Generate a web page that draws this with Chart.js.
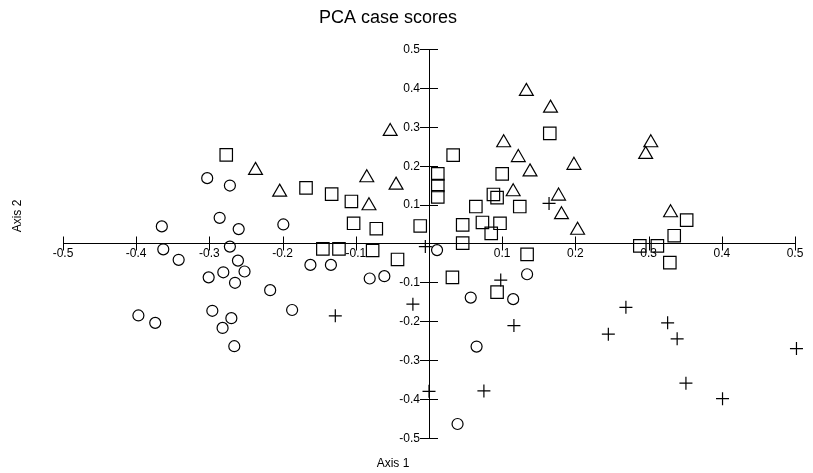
<!DOCTYPE html>
<html>
<head>
<meta charset="utf-8">
<script src="https://cdn.jsdelivr.net/npm/chart.js@4/dist/chart.umd.min.js"></script>
<style>
  html, body { margin: 0; padding: 0; background: #ffffff; }
  #wrap { width: 813px; height: 473px; }
</style>
</head>
<body>
<div id="wrap"><canvas id="c" width="813" height="473"></canvas></div>
<script>
// ---- data ----
const titleText = 'PCA case scores';
const xAxisTitle = 'Axis 1';
const yAxisTitle = 'Axis 2';
const tickValues = [-0.5, -0.4, -0.3, -0.2, -0.1, 0, 0.1, 0.2, 0.3, 0.4, 0.5];

const circleX = [-0.365, -0.303, -0.272, -0.286, -0.260, -0.199, -0.363, -0.272, -0.342, -0.261, -0.281, -0.252, -0.301, -0.265, -0.217, -0.187, -0.296, -0.397, -0.374, -0.270, -0.282, -0.266, -0.162, -0.134, -0.081, -0.061, 0.011, 0.134, 0.057, 0.115, 0.065, 0.039];
const circleY = [0.044, 0.168, 0.149, 0.066, 0.037, 0.049, -0.015, -0.008, -0.042, -0.044, -0.074, -0.072, -0.087, -0.101, -0.120, -0.171, -0.173, -0.185, -0.204, -0.192, -0.217, -0.264, -0.055, -0.055, -0.090, -0.084, -0.017, -0.079, -0.139, -0.143, -0.265, -0.464];

const squareX = [-0.277, -0.168, -0.133, -0.106, -0.103, -0.072, -0.012, -0.145, -0.123, -0.077, -0.043, 0.012, 0.012, 0.012, 0.165, 0.033, 0.100, 0.088, 0.093, 0.064, 0.124, 0.046, 0.073, 0.097, 0.085, 0.046, 0.134, 0.032, 0.093, 0.352, 0.335, 0.288, 0.312, 0.329];
const squareY = [0.228, 0.143, 0.127, 0.108, 0.052, 0.038, 0.045, -0.014, -0.014, -0.018, -0.041, 0.179, 0.149, 0.120, 0.283, 0.227, 0.179, 0.126, 0.118, 0.095, 0.095, 0.048, 0.054, 0.052, 0.026, 0.001, -0.028, -0.087, -0.125, 0.060, 0.020, -0.006, -0.006, -0.049];

const triangleX = [-0.237, -0.204, -0.053, -0.085, -0.045, -0.082, 0.133, 0.166, 0.102, 0.122, 0.138, 0.198, 0.115, 0.177, 0.181, 0.203, 0.303, 0.296, 0.330];
const triangleY = [0.188, 0.132, 0.288, 0.169, 0.150, 0.097, 0.391, 0.348, 0.259, 0.221, 0.184, 0.201, 0.133, 0.122, 0.074, 0.034, 0.259, 0.229, 0.079];

const crossX = [-0.005, -0.128, -0.022, 0.000, 0.164, 0.098, 0.116, 0.075, 0.269, 0.245, 0.326, 0.339, 0.351, 0.401, 0.502];
const crossY = [-0.008, -0.186, -0.156, -0.380, 0.103, -0.094, -0.211, -0.379, -0.164, -0.233, -0.204, -0.245, -0.359, -0.399, -0.270];

// ---- build ----
const toPoints = (xs, ys) => xs.map((x, i) => ({ x: x, y: ys[i] }));
const FONT = '"Liberation Sans", Arial, sans-serif';
const tickLabel = v => (Math.abs(v) < 1e-9 ? '' : (Math.round(v * 10) / 10).toFixed(1));

function makeSet(label, xs, ys, style, radius, bw) {
  return {
    label: label,
    data: toPoints(xs, ys),
    pointStyle: style,
    pointRadius: radius,
    pointHoverRadius: radius,
    pointBorderWidth: bw,
    borderColor: '#000000',
    backgroundColor: 'rgba(0,0,0,0)',
    showLine: false,
    clip: false
  };
}

const decor = {
  id: 'decor',
  afterDraw(chart) {
    const ctx = chart.ctx;
    const xs = chart.scales.x, ys = chart.scales.y;
    const x0 = xs.getPixelForValue(0), y0 = ys.getPixelForValue(0);
    ctx.save();
    ctx.strokeStyle = '#000000';
    ctx.lineWidth = 1;
    ctx.beginPath();
    xs.ticks.forEach(t => {
      if (Math.abs(t.value) < 1e-9) return;
      const p = Math.round(xs.getPixelForValue(t.value)) + 0.5;
      ctx.moveTo(p, y0 - 7); ctx.lineTo(p, y0 + 7);
    });
    ys.ticks.forEach(t => {
      if (Math.abs(t.value) < 1e-9) return;
      const p = Math.round(ys.getPixelForValue(t.value)) + 0.5;
      ctx.moveTo(x0 - 9, p); ctx.lineTo(x0 + 9, p);
    });
    ctx.stroke();
    ctx.fillStyle = '#000000';
    // y tick labels, right of them ends at the tick mark's left end
    ctx.font = '12px ' + FONT;
    ctx.textAlign = 'right';
    ctx.textBaseline = 'middle';
    ys.ticks.forEach(t => {
      const s = tickLabel(t.value);
      if (!s) return;
      ctx.fillText(s, x0 - 9, ys.getPixelForValue(t.value) + 0.5);
    });
    ctx.textAlign = 'center';
    ctx.font = '18px ' + FONT;
    ctx.fillText(titleText, 388, 18);
    ctx.font = '12px ' + FONT;
    ctx.fillText(xAxisTitle, 393, 464);
    ctx.translate(18, 216);
    ctx.rotate(-Math.PI / 2);
    ctx.fillText(yAxisTitle, 0, 0);
    ctx.restore();
  }
};

new Chart(document.getElementById('c'), {
  type: 'scatter',
  data: {
    datasets: [
      makeSet('circles', circleX, circleY, 'circle', 5.5, 1.2),
      makeSet('squares', squareX, squareY, 'rect', 8.8, 1.2),
      makeSet('triangles', triangleX, triangleY, 'triangle', 8, 1.2),
      makeSet('crosses', crossX, crossY, 'cross', 6.5, 1.2)
    ]
  },
  options: {
    responsive: false,
    animation: false,
    devicePixelRatio: 1,
    layout: { padding: { left: 63, right: 18, top: 49, bottom: 35 } },
    plugins: {
      legend: { display: false },
      tooltip: { enabled: false },
      title: { display: false }
    },
    scales: {
      x: {
        type: 'linear',
        position: { y: 0 },
        min: -0.5, max: 0.5,
        afterBuildTicks: s => { s.ticks = tickValues.map(v => ({ value: v })); },
        afterFit: s => { s.height = 0; s.paddingLeft = 0; s.paddingRight = 0; s.paddingTop = 0; s.paddingBottom = 0; },
        grid: { display: false, drawTicks: false },
        border: { display: true, color: '#000000', width: 1 },
        ticks: {
          autoSkip: false, maxRotation: 0, padding: 3,
          color: '#000000', font: { family: FONT, size: 12 },
          callback: v => tickLabel(v)
        }
      },
      y: {
        type: 'linear',
        position: { x: 0 },
        min: -0.5, max: 0.5,
        afterBuildTicks: s => { s.ticks = tickValues.map(v => ({ value: v })); },
        afterFit: s => { s.width = 0; s.paddingLeft = 0; s.paddingRight = 0; s.paddingTop = 0; s.paddingBottom = 0; },
        grid: { display: false, drawTicks: false },
        border: { display: true, color: '#000000', width: 1 },
        ticks: { display: false }
      }
    }
  },
  plugins: [decor]
});
</script>
</body>
</html>
